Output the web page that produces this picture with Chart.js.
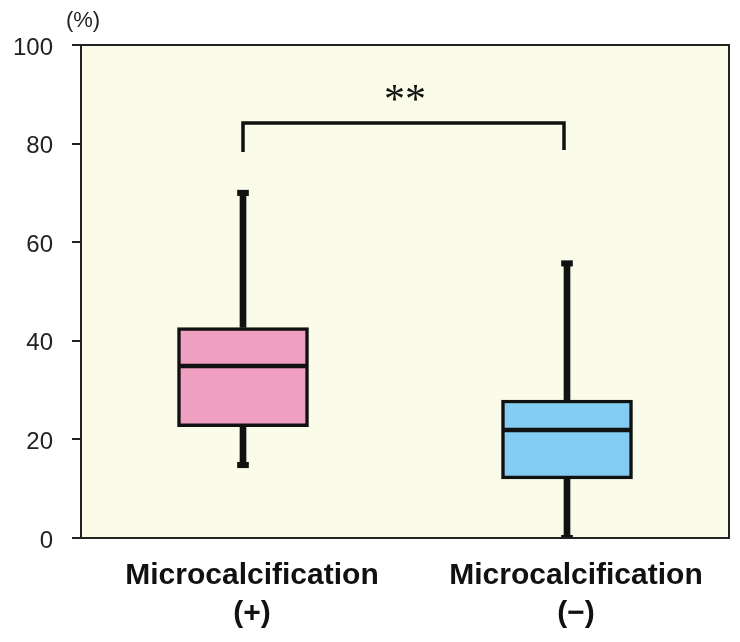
<!DOCTYPE html>
<html>
<head>
<meta charset="utf-8">
<script src="https://cdn.jsdelivr.net/npm/chart.js@4.4.1/dist/chart.umd.min.js"></script>
<style>
  html, body { margin: 0; padding: 0; background: #ffffff; }
  #wrap { width: 740px; height: 642px; position: relative; }
</style>
</head>
<body>
<div id="wrap"><canvas id="c"></canvas></div>
<script>
// ---- data ----
const categories = [['Microcalcification', '(+)'], ['Microcalcification', '(\u2212)']];
const whiskerMin = [14.8, 0];
const q1 = [22.6, 12.0];
const median = [34.9, 21.9];
const q3 = [42.7, 28.0];
const whiskerMax = [70.0, 55.7];
const yTicks = [0, 20, 40, 60, 80, 100];
const yUnit = '(%)';
const bracketLevel = 84.2;
const bracketLegs = [78.3, 78.7];
const sigLabel = '**';
const sigLevel = 90.5;

// ---- styling ----
const boxColors = ['#EF9FBF', '#84CDF2'];
const plotBg = '#FAFCE9';
const ink = '#111111';

const boxData = q1.map((v, i) => [v, q3[i]]);
const lowerWhisker = whiskerMin.map((v, i) => [v, q1[i]]);
const upperWhisker = whiskerMax.map((v, i) => [q3[i], v]);
const medianData = median.map(v => [v - 0.38, v + 0.38]);
const capData = whiskerMax.map(v => [v - 0.55, v + 0.55]);
const capDataLow = whiskerMin.map(v => [v - 0.55, v + 0.55]);

const decor = {
  id: 'decor',
  beforeDraw(chart) {
    const { ctx, chartArea: a } = chart;
    ctx.save();
    ctx.fillStyle = plotBg;
    ctx.fillRect(a.left, a.top, a.right - a.left, a.bottom - a.top);
    ctx.restore();
  },
  afterDraw(chart) {
    const { ctx, chartArea: a, scales } = chart;
    const x = scales.x, y = scales.y;
    ctx.save();
    // frame
    ctx.strokeStyle = '#222';
    ctx.lineWidth = 2;
    ctx.strokeRect(a.left, a.top, a.right - a.left, a.bottom - a.top);
    // bracket
    const x0 = x.getPixelForValue(0), x1 = x.getPixelForValue(1);
    const yb = y.getPixelForValue(bracketLevel);
    ctx.strokeStyle = ink;
    ctx.lineWidth = 3.5;
    ctx.lineCap = 'butt';
    ctx.beginPath();
    ctx.moveTo(x0, y.getPixelForValue(bracketLegs[0]));
    ctx.lineTo(x0, yb);
    ctx.lineTo(x1 - 3, yb);
    ctx.lineTo(x1 - 3, y.getPixelForValue(bracketLegs[1]));
    ctx.stroke();
    // significance label
    ctx.fillStyle = ink;
    ctx.font = '42px "Liberation Serif", "Times New Roman", serif';
    ctx.textAlign = 'center';
    ctx.textBaseline = 'middle';
    ctx.fillText(sigLabel, (x0 + x1) / 2, y.getPixelForValue(sigLevel) + 10);
    // unit label
    ctx.font = '22px "Liberation Sans", Arial, sans-serif';
    ctx.fillStyle = '#222';
    ctx.fillText(yUnit, 83, 21);
    ctx.restore();
  }
};

new Chart(document.getElementById('c'), {
  type: 'bar',
  data: {
    labels: categories,
    datasets: [
      { label: 'median', data: medianData, backgroundColor: ink, borderWidth: 0,
        barThickness: 128, grouped: false, order: 0 },
      { label: 'box', data: boxData, backgroundColor: boxColors, borderColor: ink,
        borderWidth: 3.5, borderSkipped: false, barThickness: 131, grouped: false, order: 1 },
      { label: 'capHigh', data: capData, backgroundColor: ink, borderWidth: 0,
        barThickness: 11, grouped: false, order: 2 },
      { label: 'capLow', data: capDataLow, backgroundColor: ink, borderWidth: 0,
        barThickness: 11, grouped: false, order: 2 },
      { label: 'whiskerLow', data: lowerWhisker, backgroundColor: ink, borderWidth: 0,
        barThickness: 6, grouped: false, order: 3 },
      { label: 'whiskerHigh', data: upperWhisker, backgroundColor: ink, borderWidth: 0,
        barThickness: 6, grouped: false, order: 3 }
    ]
  },
  options: {
    responsive: true,
    maintainAspectRatio: false,
    animation: false,
    layout: { padding: { top: 45, right: 11, bottom: 0, left: 0 } },
    plugins: { legend: { display: false }, tooltip: { enabled: false } },
    scales: {
      x: {
        type: 'category',
        offset: true,
        grid: { display: false, drawTicks: false },
        border: { display: false },
        ticks: {
          color: ink,
          font: { family: '"Liberation Sans", Arial, sans-serif', size: 30, weight: 'bold', lineHeight: 1.25 },
          maxRotation: 0, minRotation: 0, autoSkip: false,
          padding: 19,
          labelOffset: 9
        },
        afterFit(scale) { scale.height = 104; }
      },
      y: {
        min: 0, max: 100,
        afterBuildTicks(scale) { scale.ticks = yTicks.map(v => ({ value: v })); },
        grid: { drawOnChartArea: false, drawTicks: true, tickLength: 9, color: '#222', lineWidth: 2 },
        border: { display: false },
        ticks: {
          color: '#222',
          font: { family: '"Liberation Sans", Arial, sans-serif', size: 24 },
          padding: 19,
          labelOffset: 3
        },
        afterFit(scale) { scale.width = 81; }
      }
    }
  },
  plugins: [decor]
});
</script>
</body>
</html>
